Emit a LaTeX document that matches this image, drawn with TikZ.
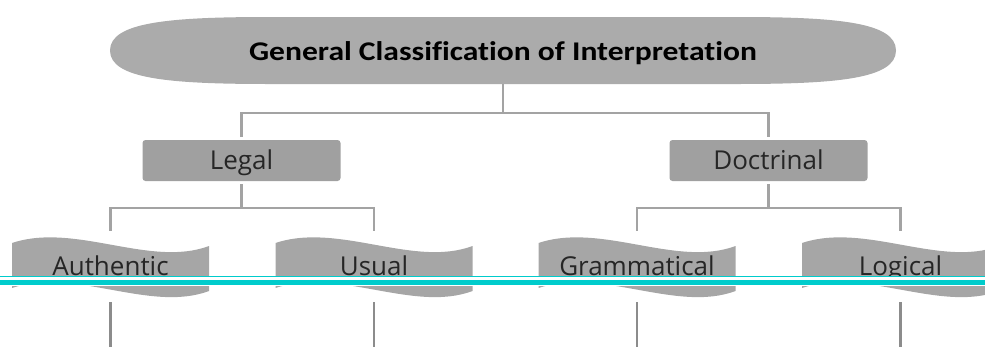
\documentclass[tikz,border=0pt]{standalone}
\usepackage{fontspec}
\setmainfont{Open Sans}
\newfontfamily\headfont[Ligatures=NoCommon]{Carlito}
\definecolor{headfill}{HTML}{ABABAB}
\definecolor{boxfill}{HTML}{A0A0A0}
\definecolor{flagfill}{HTML}{A6A6A6}
\definecolor{linkgray}{HTML}{A3A3A3}
\definecolor{stemgray}{HTML}{8C8C8C}
\definecolor{rulecyan}{HTML}{00CCCC}
\tikzset{
  link/.style={draw=linkgray, line width=2.6pt},
  stem/.style={draw=stemgray, line width=2.6pt},
  catbox/.style={fill=boxfill, rounded corners=3pt, minimum width=198pt,
    minimum height=41pt, inner sep=0pt, outer sep=3pt},
  flagframe/.style={minimum width=197pt, minimum height=71pt, inner sep=0pt},
  flagtext/.style={anchor=base, inner sep=0pt, font=\fontsize{26}{28}\selectfont, text=black!85},
}
% wavy banner: #1 left edge, #2 node name, #3 label
\newcommand\banner[3]{%
  \begin{scope}[xshift=#1pt]
    \fill[flagfill] (0,243) .. controls (63,222) and (138,268) .. (197,246)
      -- (197,291) .. controls (138,313) and (63,267) .. (0,288) -- cycle;
    \node[flagframe] (#2) at (98.5,266.5) {};
    \node[flagtext] (#2text) at (98.5,275) {#3};
  \end{scope}}
\begin{document}
\begin{tikzpicture}[x=1pt, y=-1pt]
\useasboundingbox (0,0) rectangle (985,349);

% heading
\fill[headfill] (110,50.5) .. controls (110,22) and (170,17) .. (270,17)
  -- (736,17) .. controls (836,17) and (896,22) .. (896,50.5)
  .. controls (896,79) and (836,84) .. (736,84)
  -- (270,84) .. controls (170,84) and (110,79) .. (110,50.5) -- cycle;
\node[inner sep=0pt, minimum height=67pt, minimum width=786pt] (title) at (503,50.5) {};
\node[anchor=base, inner sep=0pt, xscale=1.17,
  font=\headfont\bfseries\fontsize{27}{29}\selectfont]
  (titletext) at (503,60) {General Classification of Interpretation};

% second level
\node[catbox] (legal) at (241.5,160.5) {};
\node[flagtext] (legaltext) at (241.5,169) {Legal};
\node[catbox] (doctrinal) at (768.5,160.5) {};
\node[flagtext] (doctrinaltext) at (768.5,169) {Doctrinal};

% third level
\banner{12}{authentic}{Authentic}
\banner{275.5}{usual}{Usual}
\banner{538.5}{grammatical}{Grammatical}
\banner{802}{logical}{Logical}

% connectors
\coordinate (j1) at (503,113);
\coordinate (j2) at (241.5,208);
\coordinate (j3) at (768.5,208);
\draw[link] (title.south) -- (j1);
\draw[link] (legal.north) -- (legal.north |- j1) -- (doctrinal.north |- j1) -- (doctrinal.north);
\draw[link] (legal.south) -- (j2);
\draw[link] (authentic.north) -- (authentic.north |- j2) -- (usual.north |- j2) -- (usual.north);
\draw[link] (doctrinal.south) -- (j3);
\draw[link] (grammatical.north) -- (grammatical.north |- j3) -- (logical.north |- j3) -- (logical.north);

% stems below the banners
\foreach \n in {authentic, usual, grammatical, logical}
  \draw[stem] (\n.south) -- (\n.south |- 0,347);

% double rule across the page
\fill[white] (0,275.5) rectangle (985,285.5);
\fill[rulecyan] (0,275.6) rectangle (985,277.4);
\fill[rulecyan] (0,280) rectangle (985,285.2);
\end{tikzpicture}
\end{document}
